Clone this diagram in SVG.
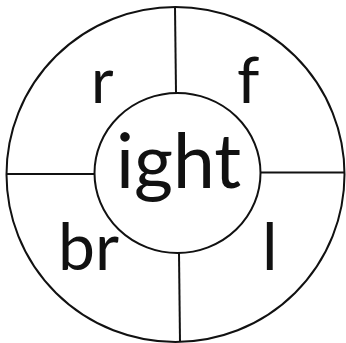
<svg xmlns="http://www.w3.org/2000/svg" width="346" height="343" viewBox="0 0 346 343">
<style>
.ln{fill:none;stroke:#111;stroke-width:2}
.t{font-family:Lato,"Open Sans",sans-serif;fill:#111}
</style>
<rect width="346" height="343" fill="#fff"/>
<g id="outer"><ellipse class="ln" cx="175.5" cy="174.5" rx="169" ry="167.5"/></g>
<g id="connectors">
<line class="ln" x1="175" y1="7" x2="176" y2="93"/>
<line class="ln" x1="6.5" y1="174" x2="95" y2="174"/>
<line class="ln" x1="260" y1="172.5" x2="344.5" y2="172.5"/>
<line class="ln" x1="179" y1="253" x2="180" y2="342"/>
</g>
<g id="center"><ellipse class="ln" cx="177.5" cy="173" rx="83" ry="80"/><text class="t" x="116" y="188" font-size="75">ight</text></g>
<g id="r"><text class="t" x="91" y="103" font-size="62">r</text></g>
<g id="f"><text class="t" x="237" y="103" font-size="64">f</text></g>
<g id="br"><text class="t" x="58" y="270" font-size="66">br</text></g>
<g id="l"><text class="t" x="262" y="270" font-size="66">l</text></g>
</svg>
